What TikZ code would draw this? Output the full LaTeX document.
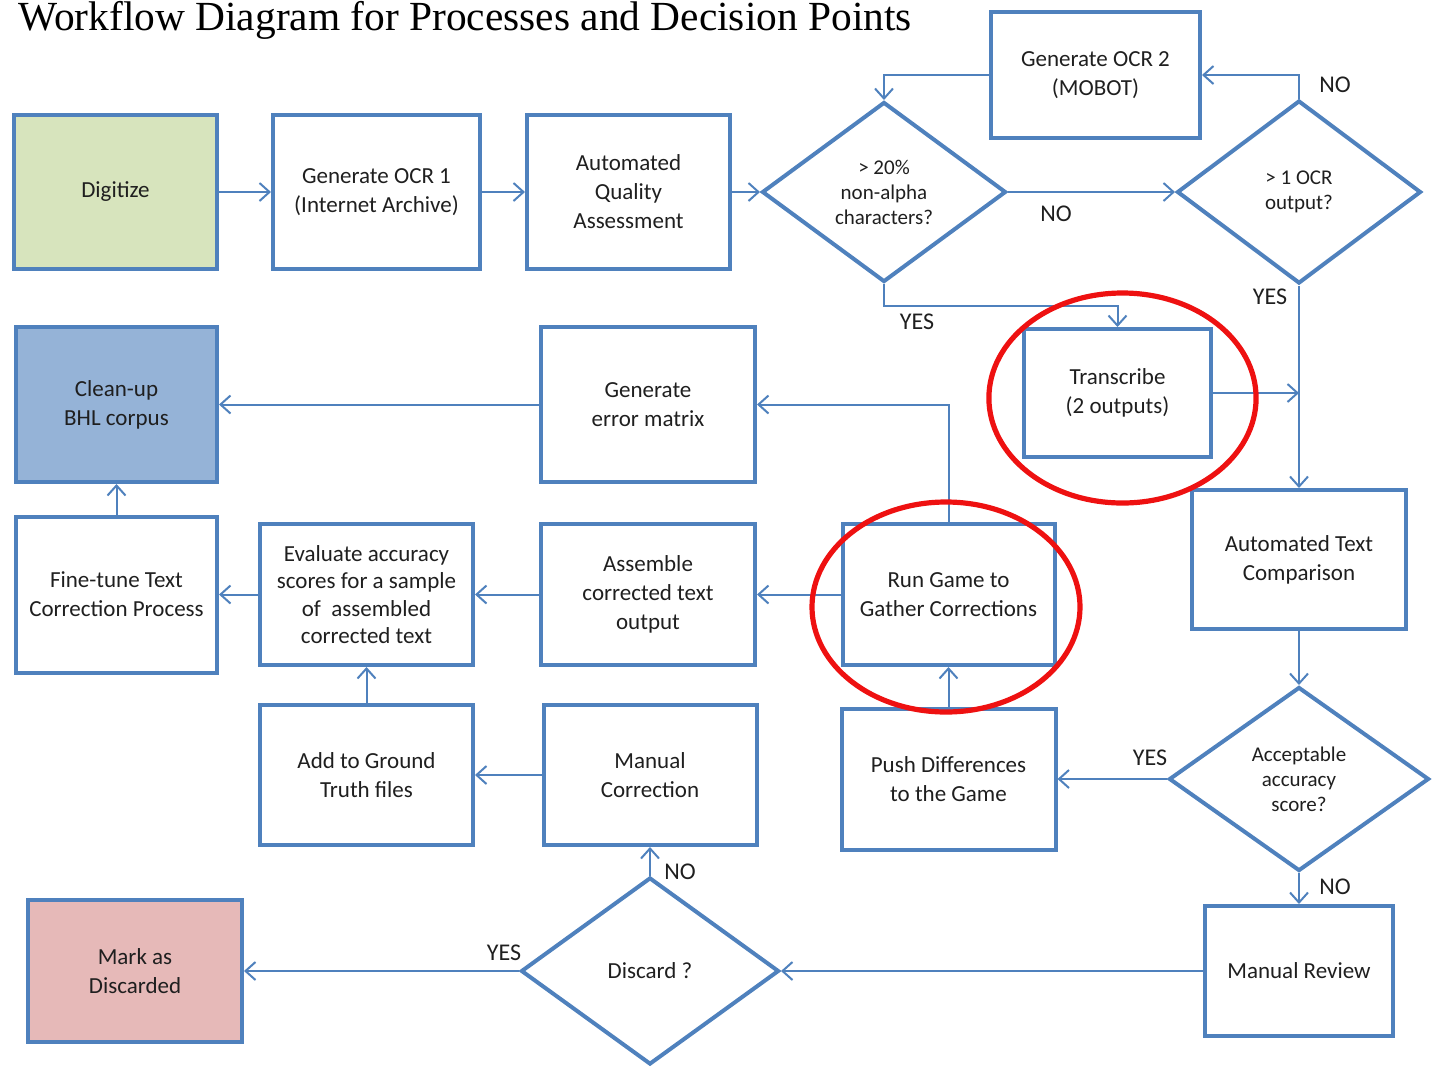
\documentclass[tikz,border=0pt]{standalone}
\usepackage{fontspec}
\setmainfont{Carlito}
\newfontfamily\titlefont{Liberation Serif}
\usetikzlibrary{shapes.geometric,arrows.meta}

\definecolor{flowblue}{HTML}{4F81BD}
\definecolor{digigreen}{HTML}{D7E4BD}
\definecolor{bhlblue}{HTML}{95B3D7}
\definecolor{discardpink}{HTML}{E6B9B8}
\definecolor{inkgray}{HTML}{1F1F1F}
\definecolor{ringred}{HTML}{EE1111}

\tikzset{
    proc/.style={draw=flowblue, line width=2pt, align=center, text=inkgray,
        font=\fontsize{11.5}{14.5}\selectfont, inner sep=2pt},
    decide/.style={diamond, draw=flowblue, line width=2pt, align=center, text=inkgray,
        font=\fontsize{10.5}{12.5}\selectfont, inner sep=0pt, aspect=1.35},
    flow/.style={draw=flowblue, line width=1pt,
        -{Straight Barb[length=5pt,width=9pt,line width=1pt]}},
    lab/.style={text=inkgray, font=\fontsize{12}{14}\selectfont, inner sep=0pt},
    ring/.style={draw=ringred, line width=2.6pt},
}

\begin{document}
\begin{tikzpicture}[x=0.5pt, y=-0.5pt]
    \useasboundingbox (0,0) rectangle (1448,1089);
    % Title
    \node[anchor=base west, inner sep=0pt, text=black, font=\titlefont\fontsize{20.7}{24}\selectfont]
        (title) at (18,30) {Workflow Diagram for Processes and Decision Points};
    % First row
    \node[proc, fill=digigreen, minimum width=101.5pt, minimum height=77pt] (dig) at (115.5,192) {Digitize};
    \node[proc, minimum width=103.5pt, minimum height=77pt] (ocra) at (376.5,192) {Generate OCR 1\\(Internet Archive)};
    \node[proc, minimum width=101.5pt, minimum height=77pt] (aqa) at (628.5,192) {Automated\\Quality\\Assessment};
    \node[decide, minimum width=122pt, minimum height=90pt] (dA) at (884,192) {> 20\%\\non-alpha\\characters?};
    \node[proc, minimum width=104.5pt, minimum height=63pt] (ocrb) at (1095.5,75) {Generate OCR 2\\(MOBOT)};
    \node[decide, minimum width=122pt, minimum height=91.5pt] (dB) at (1299,192) {> 1 OCR\\output?};
    % Second row
    \node[proc, minimum width=93.5pt, minimum height=64pt] (trans) at (1117.5,393) {Transcribe\\(2 outputs)};
    \node[proc, fill=bhlblue, minimum width=100.5pt, minimum height=77.5pt] (clean) at (116.5,404.5) {Clean-up\\BHL corpus};
    \node[proc, minimum width=107pt, minimum height=77.5pt] (err) at (648,404.5) {Generate\\error matrix};
    % Third row
    \node[proc, minimum width=100.5pt, minimum height=78pt] (fine) at (116.5,594.5) {Fine-tune Text\\Correction Process};
    \node[proc, minimum width=106.5pt, minimum height=70.5pt, font=\fontsize{11.5}{13.8}\selectfont] (evl) at (366.5,594.5)
        {Evaluate accuracy\\scores for a sample\\of\ \ assembled\\corrected text};
    \node[proc, minimum width=107pt, minimum height=70.5pt] (asm) at (648,594.5) {Assemble\\corrected text\\output};
    \node[proc, minimum width=106pt, minimum height=70.5pt] (game) at (948.5,594.5) {Run Game to\\Gather Corrections};
    \node[proc, minimum width=107pt, minimum height=69.5pt] (atc) at (1299,559.5) {Automated Text\\Comparison};
    % Fourth row
    \node[proc, minimum width=106.5pt, minimum height=70pt] (agt) at (366.5,775) {Add to Ground\\Truth files};
    \node[proc, minimum width=106.5pt, minimum height=70pt] (mcor) at (650,775) {Manual\\Correction};
    \node[proc, minimum width=107pt, minimum height=70.5pt] (push) at (948.5,779) {Push Differences\\to the Game};
    \node[decide, minimum width=130pt, minimum height=92pt] (dC) at (1299,779) {Acceptable\\accuracy\\score?};
    % Bottom row
    \node[proc, fill=discardpink, minimum width=107pt, minimum height=71pt] (mark) at (135,971) {Mark as\\Discarded};
    \node[decide, minimum width=129pt, minimum height=93.5pt, font=\fontsize{11.5}{14}\selectfont] (dD) at (650,971) {Discard ?};
    \node[proc, minimum width=94pt, minimum height=65pt] (mrev) at (1299,971) {Manual Review};
    % Straight connectors, left to right
    \foreach \a/\b in {dig/ocra, ocra/aqa, aqa/dA, dA/dB}
        \draw[flow] (\a.east) -- (\b.west);
    % Straight connectors, right to left
    \foreach \a/\b in {dC/push, mrev/dD, dD/mark, mcor/agt, game/asm, asm/evl, evl/fine, err/clean}
        \draw[flow] (\a.west) -- (\b.east);
    % Straight connectors, bottom to top
    \foreach \a/\b in {dD/mcor, agt/evl, push/game, fine/clean}
        \draw[flow] (\a.north) -- (\b.south);
    % Straight connectors, top to bottom
    \foreach \a/\b in {dB/atc, atc/dC, dC/mrev}
        \draw[flow] (\a.south) -- (\b.north);
    % Bent connectors
    \draw[flow] (dB.north) |- (ocrb.east);
    \draw[flow] (ocrb.west) -| (dA.north);
    \draw[flow] (dA.south) -- ++(0,22) -| (trans.north);
    \coordinate (join) at (trans.east -| dB.south);
    \draw[flow] (trans.east) -- (join);
    \draw[flow] (game.north) |- (err.east);
    % Branch labels
    \node[lab] (noA) at (1056,214) {NO};
    \node[lab] (noB) at (1335,85) {NO};
    \node[lab] (yesA) at (917,322) {YES};
    \node[lab] (yesB) at (1270,297) {YES};
    \node[lab] (yesC) at (1150,758) {YES};
    \node[lab] (noC) at (1335,887) {NO};
    \node[lab] (yesD) at (504,953) {YES};
    \node[lab] (noD) at (680,872) {NO};
    % Red rings
    \draw[ring] (1122.5,398) ellipse [x radius=66.8pt, y radius=52.5pt];
    \draw[ring] (946,607) ellipse [x radius=67pt, y radius=52.5pt];
\end{tikzpicture}
\end{document}
